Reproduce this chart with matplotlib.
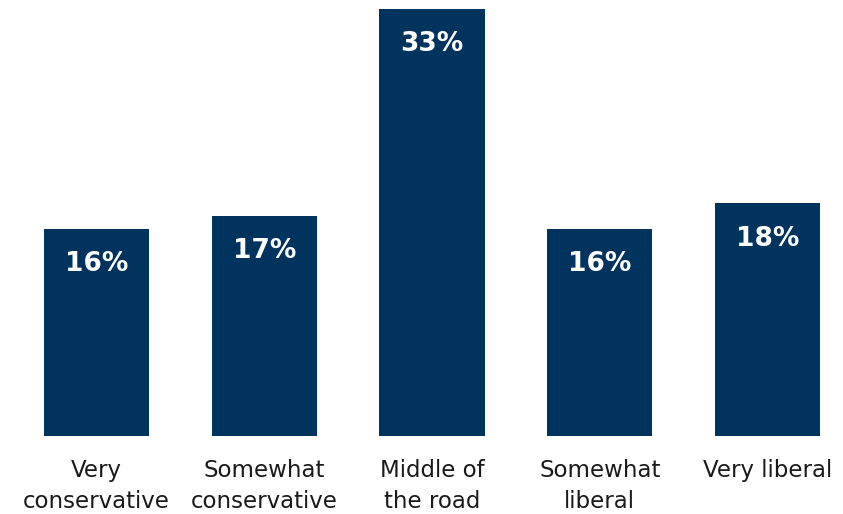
import numpy as np
import matplotlib
matplotlib.use('Agg')
import matplotlib.pyplot as plt

# data
categories = ['Very\nconservative', 'Somewhat\nconservative', 'Middle of\nthe road',
              'Somewhat\nliberal', 'Very liberal']
values = [16, 17, 33, 16, 18]
value_labels = ['16%', '17%', '33%', '16%', '18%']

fig = plt.figure(figsize=(8.43, 5.14), dpi=100)
ax = fig.add_axes([0, 0.1518, 1, 0.8482])

x = np.arange(len(categories))
ax.bar(x, values, width=0.628, color='#00345f')

for xi, v, lab in zip(x, values, value_labels):
    ax.text(xi, v - 2.75, lab, ha='center', va='center', color='white',
            fontsize=19, fontweight='bold')

for xi, cat in zip(x, categories):
    ax.text(xi, -1.8, cat, ha='center', va='top', color='#1a1a1a',
            fontsize=16.5, linespacing=1.42)

ax.set_xlim(-0.575, 4.45)
ax.set_ylim(0, 33.67)
ax.axis('off')

fig.savefig('out.png', dpi=100)
